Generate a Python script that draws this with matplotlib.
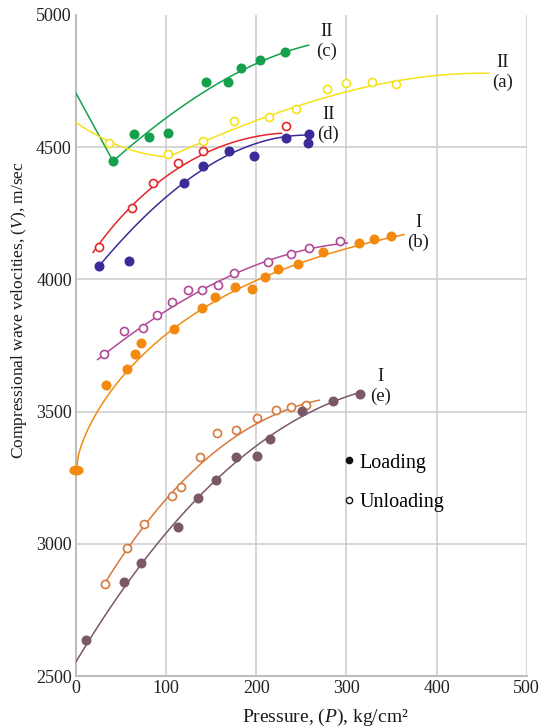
import numpy as np
import matplotlib.pyplot as plt
from matplotlib.lines import Line2D
from matplotlib.markers import MarkerStyle
from matplotlib.transforms import Affine2D

plt.rcParams['font.family'] = ['Liberation Serif', 'DejaVu Serif']
plt.rcParams['mathtext.fontset'] = 'custom'
plt.rcParams['mathtext.rm'] = 'Liberation Serif'
plt.rcParams['mathtext.it'] = 'Liberation Serif:italic'

# ---- data: pressure (kg/cm2) vs velocity (m/s) ----
# (c) II loading
c_p = [41, 64, 81, 102, 144, 169, 183, 204, 232]
c_v = [4448, 4550, 4539, 4554, 4747, 4747, 4800, 4830, 4860]
c_line_p = [0, 41, 70, 100, 142, 169, 201, 233, 258]
c_line_v = [4704, 4448, 4528, 4611, 4710, 4764, 4817, 4859, 4887]

# (a) II unloading
a_p = [37, 102, 141, 175, 214, 244, 279, 300, 328, 355]
a_v = [4515, 4475, 4523, 4598, 4613, 4643, 4721, 4743, 4748, 4739]
a_line_p = [0, 37, 56, 78, 100, 141, 175, 200, 250, 300, 356, 400, 458]
a_line_v = [4594, 4521, 4496, 4474, 4464, 4515, 4559, 4609, 4662, 4714, 4748, 4767, 4782]

# (d) II unloading (red) and loading (blue)
dr_p = [25, 62, 85, 113, 141, 233]
dr_v = [4123, 4269, 4366, 4441, 4487, 4581]
dr_line_p = [19, 25, 38, 62, 100, 141, 170, 200, 228]
dr_line_v = [4099, 4130, 4200, 4269, 4386, 4479, 4515, 4538, 4553]

db_p = [25, 59, 120, 141, 170, 198, 233, 258, 257]
db_v = [4051, 4070, 4363, 4429, 4487, 4467, 4534, 4549, 4517]
db_line_p = [25, 60, 100, 120, 141, 170, 200, 232, 258]
db_line_v = [4051, 4175, 4313, 4365, 4422, 4475, 4510, 4536, 4549]

# (b) I unloading (purple) and loading (orange)
bu_p = [31, 53, 74, 90, 107, 124, 140, 158, 175, 213, 238, 259, 293]
bu_v = [3719, 3806, 3817, 3867, 3916, 3959, 3960, 3980, 4023, 4065, 4097, 4120, 4145]
bu_line_p = [24, 74, 100, 148, 200, 238, 259, 301]
bu_line_v = [3698, 3818, 3885, 3973, 4061, 4092, 4115, 4139]

bl_p = [0, 33, 57, 65, 72, 109, 140, 154, 176, 195, 210, 224, 246, 274, 314, 331, 349]
bl_v = [3280, 3600, 3662, 3716, 3761, 3811, 3891, 3932, 3970, 3964, 4008, 4038,
        4057, 4105, 4137, 4152, 4164]
bl_line_p = [0, 4, 8, 15, 23, 38, 58, 90, 109, 140, 200, 300, 364]
bl_line_v = [3280, 3330, 3393, 3456, 3502, 3575, 3661, 3755, 3811, 3891, 3998, 4118, 4168]

# (e) I unloading (brown) and loading (mauve)
eu_p = [32, 57, 76, 107, 116, 138, 156, 178, 201, 222, 238, 255]
eu_v = [2848, 2985, 3074, 3181, 3215, 3329, 3419, 3430, 3477, 3507, 3516, 3525]
eu_line_p = [32, 57, 76, 100, 145, 200, 241, 270]
eu_line_v = [2848, 2985, 3072, 3166, 3317, 3460, 3512, 3544]

el_p = [11, 53, 72, 113, 135, 155, 178, 201, 215, 251, 285, 315]
el_v = [2636, 2854, 2927, 3062, 3173, 3241, 3329, 3332, 3395, 3501, 3541, 3567]
el_line_p = [0, 11, 53, 72, 100, 135, 200, 251, 285, 315]
el_line_v = [2552, 2611, 2844, 2926, 3033, 3170, 3362, 3492, 3541, 3567]

x_ticks = [0, 100, 200, 300, 400, 500]
y_ticks = [2500, 3000, 3500, 4000, 4500, 5000]

GREEN = '#14a04c'
YELLOW = '#f5e21a'
RED = '#e3262a'
BLUE = '#3a2b98'
PURPLE = '#b04a98'
ORANGE = '#f28a10'
BROWN = '#d6793c'
MAUVE = '#7a5868'

fig = plt.figure(figsize=(5.4, 7.28), dpi=100)
ax = fig.add_axes([0.1407, 0.0714, 0.8346, 0.908])

lw = 1.1
ms = 6.2


def smooth(p, v, deg=3, sqrt=False):
    # least squares curve through the read line vertices
    p = np.asarray(p, float)
    v = np.asarray(v, float)
    xs = np.linspace(p.min(), p.max(), 120)
    if sqrt:
        coef = np.polyfit(np.sqrt(p), v, deg)
        return xs, np.polyval(coef, np.sqrt(xs))
    coef = np.polyfit(p, v, deg)
    return xs, np.polyval(coef, xs)


def curve(p, v, col, deg=3, sqrt=False):
    xs, ys = smooth(p, v, deg, sqrt)
    ax.plot(xs, ys, color=col, lw=lw, zorder=3)


def filled(p, v, col):
    ax.plot(p, v, 'o', color=col, mec=col, ms=ms, zorder=4)


def hollow(p, v, col):
    ax.plot(p, v, 'o', mfc='white', mec=col, mew=1.2, ms=ms - 0.4, zorder=4)


# lines
ax.plot(c_line_p[:2], c_line_v[:2], color=GREEN, lw=lw, zorder=3)
curve(c_line_p[1:], c_line_v[1:], GREEN)
curve(a_line_p[:5], a_line_v[:5], YELLOW, deg=2)
curve(a_line_p[4:], a_line_v[4:], YELLOW)
curve(dr_line_p, dr_line_v, RED, sqrt=True)
curve(db_line_p, db_line_v, BLUE)
curve(bu_line_p, bu_line_v, PURPLE)
curve(bl_line_p, bl_line_v, ORANGE, deg=4, sqrt=True)
curve(eu_line_p, eu_line_v, BROWN)
curve(el_line_p, el_line_v, MAUVE)

# points
filled(c_p, c_v, GREEN)
hollow(a_p, a_v, YELLOW)
hollow(dr_p, dr_v, RED)
filled(db_p, db_v, BLUE)
hollow(bu_p, bu_v, PURPLE)
filled(bl_p[1:], bl_v[1:], ORANGE)
# first point sits on the axis, drawn as a wide oval
oval = MarkerStyle('o', transform=Affine2D().scale(1.5, 1.0))
ax.plot(bl_p[:1], bl_v[:1], linestyle='none', marker=oval, color=ORANGE,
        ms=ms, clip_on=False, zorder=5)
hollow(eu_p, eu_v, BROWN)
filled(el_p, el_v, MAUVE)

# curve labels
lab = dict(ha='center', va='center', fontsize=13.5, linespacing=1.2, color='#1a1a1a')
ax.text(278, 4899, 'II\n(c)', **lab)
ax.text(473, 4783, 'II\n(a)', **lab)
ax.text(280, 4586, 'II\n(d)', **lab)
ax.text(380, 4179, 'I\n(b)', **lab)
ax.text(338, 3596, 'I\n(e)', **lab)

# legend
handles = [
    Line2D([], [], marker='o', color='#111111', linestyle='none', ms=4.5),
    Line2D([], [], marker='o', mfc='white', mec='#111111', mew=1.0,
           linestyle='none', ms=4.5),
]
ax.legend(handles, ['Loading', 'Unloading'], loc='upper left',
          bbox_to_anchor=(0.575, 0.352), frameon=False, fontsize=14.5,
          handlelength=0.4, handletextpad=0.3, labelspacing=1.0,
          borderpad=0)

ax.set_xlim(0, 500)
ax.set_ylim(2500, 5000)
ax.set_xticks(x_ticks)
ax.set_yticks(y_ticks)
ax.tick_params(length=0, labelsize=13, colors='#222222', pad=3)
ax.grid(True, color='#cccccc', lw=1.1)
ax.yaxis.get_gridlines()[-1].set_visible(False)
ax.set_axisbelow(True)
for s in ['top', 'right']:
    ax.spines[s].set_visible(False)
for s in ['left', 'bottom']:
    ax.spines[s].set_color('#bdbdbd')
    ax.spines[s].set_linewidth(1.5)

ax.set_xlabel('Pressure, ($P$), kg/cm²', fontsize=14, color='#1a1a1a')
ax.set_ylabel('Compressional wave velocities, ($V$), m/sec', fontsize=12.5,
              color='#1a1a1a')
ax.xaxis.set_label_coords(0.553, -0.047)
ax.yaxis.set_label_coords(-0.104, 0.554)

fig.savefig('out.png', dpi=100)
